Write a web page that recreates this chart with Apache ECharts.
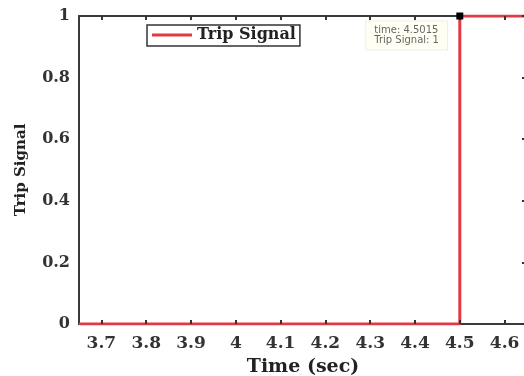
<!DOCTYPE html>
<html><head><meta charset="utf-8">
<script src="https://cdn.jsdelivr.net/npm/echarts@6/dist/echarts.min.js"></script>
<style>html,body{margin:0;padding:0;background:#fff}#c{width:524px;height:376px}</style>
</head><body><div id="c"></div>
<script>
// Data
var timeValues = [3.65, 4.5, 4.5, 4.65];
var tripValues = [0, 0, 1, 1];
var xTickValues = [3.7, 3.8, 3.9, 4.0, 4.1, 4.2, 4.3, 4.4, 4.5, 4.6];
var yTickValues = [0, 0.2, 0.4, 0.6, 0.8, 1];
var tipPoint = [4.5, 1];
var tipTime = 4.5015;
var tipValue = 1;

var seriesData = timeValues.map(function (t, i) { return [t, tripValues[i]]; });
var serif = 'DejaVu Serif';
var axisColor = '#3a3a3a';
var gridBox = { left: 79, right: -3, top: 16, bottom: 52, containLabel: false, outerBoundsMode: 'none' };
var fmt = function (v) { return String(+v.toFixed(2)); };
var tickStyle = { color: '#333', width: 2 };

var chart = echarts.init(document.getElementById('c'));
chart.setOption({
  animation: false,
  backgroundColor: '#fff',
  grid: [Object.assign({}, gridBox), Object.assign({}, gridBox)],
  legend: {
    left: 147, top: 25,
    data: [{ name: 'Trip Signal', icon: 'rect' }],
    itemWidth: 40, itemHeight: 3, itemGap: 5,
    padding: [2, 4, 3, 5],
    borderColor: '#333', borderWidth: 1.5,
    backgroundColor: '#fff',
    textStyle: { fontFamily: serif, fontWeight: 'bold', fontSize: 16, color: '#222' }
  },
  xAxis: [
    { gridIndex: 0, type: 'value', position: 'bottom', min: 3.65, max: 4.65,
      name: 'Time (sec)', nameLocation: 'middle', nameGap: 34,
      nameTextStyle: { fontFamily: serif, fontWeight: 'bold', fontSize: 19, color: '#222' },
      axisLine: { show: true, onZero: false, lineStyle: { color: axisColor, width: 2 } },
      axisTick: { show: false }, splitLine: { show: false },
      axisLabel: { customValues: xTickValues, margin: 11, fontFamily: serif, fontWeight: 'bold', fontSize: 17, color: '#333', formatter: fmt },
      z: 0 },
    { gridIndex: 0, type: 'value', position: 'top', min: 3.65, max: 4.65,
      axisLine: { show: true, onZero: false, lineStyle: { color: axisColor, width: 2 } },
      axisTick: { show: false }, axisLabel: { show: false }, splitLine: { show: false }, z: 0 },
    { gridIndex: 1, type: 'value', position: 'bottom', min: 3.65, max: 4.65,
      axisLine: { show: false, onZero: false }, axisLabel: { show: false }, splitLine: { show: false },
      axisTick: { show: true, inside: true, length: 4, customValues: xTickValues, lineStyle: tickStyle }, z: 10 },
    { gridIndex: 1, type: 'value', position: 'top', min: 3.65, max: 4.65,
      axisLine: { show: false, onZero: false }, axisLabel: { show: false }, splitLine: { show: false },
      axisTick: { show: true, inside: true, length: 4, customValues: xTickValues, lineStyle: tickStyle }, z: 10 }
  ],
  yAxis: [
    { gridIndex: 0, type: 'value', position: 'left', min: 0, max: 1,
      name: 'Trip Signal', nameLocation: 'middle', nameGap: 50,
      nameTextStyle: { fontFamily: serif, fontWeight: 'bold', fontSize: 15, color: '#222' },
      axisLine: { show: true, onZero: false, lineStyle: { color: axisColor, width: 2 } },
      axisTick: { show: false }, splitLine: { show: false },
      axisLabel: { customValues: yTickValues, margin: 9, fontFamily: serif, fontWeight: 'bold', fontSize: 16, color: '#333', formatter: fmt },
      z: 0 },
    { gridIndex: 0, type: 'value', position: 'right', min: 0, max: 1,
      axisLine: { show: true, onZero: false, lineStyle: { color: axisColor, width: 2 } },
      axisLabel: { show: false }, splitLine: { show: false },
      axisTick: { show: true, inside: true, length: 5, customValues: yTickValues, lineStyle: tickStyle }, z: 10 },
    { gridIndex: 1, type: 'value', position: 'left', min: 0, max: 1,
      axisLine: { show: false }, axisLabel: { show: false }, splitLine: { show: false }, axisTick: { show: false } }
  ],
  series: [{
    name: 'Trip Signal', type: 'line', xAxisIndex: 0, yAxisIndex: 0,
    data: seriesData, symbol: 'none', showSymbol: false,
    lineStyle: { color: '#e23a45', width: 3 },
    itemStyle: { color: '#e23a45' },
    z: 5,
    markPoint: {
      symbol: 'rect', symbolSize: 7,
      itemStyle: { color: '#000' },
      data: [{ coord: tipPoint }],
      label: {
        show: true, position: [-90, 9],
        formatter: 'time: ' + tipTime + '\nTrip Signal: ' + tipValue,
        fontFamily: 'DejaVu Sans', fontSize: 10, lineHeight: 10, color: '#666',
        backgroundColor: '#fffff4', borderColor: '#efefe0', borderWidth: 1,
        padding: [4, 8, 4, 8], align: 'left'
      },
      z: 20
    }
  }]
});
</script></body></html>
